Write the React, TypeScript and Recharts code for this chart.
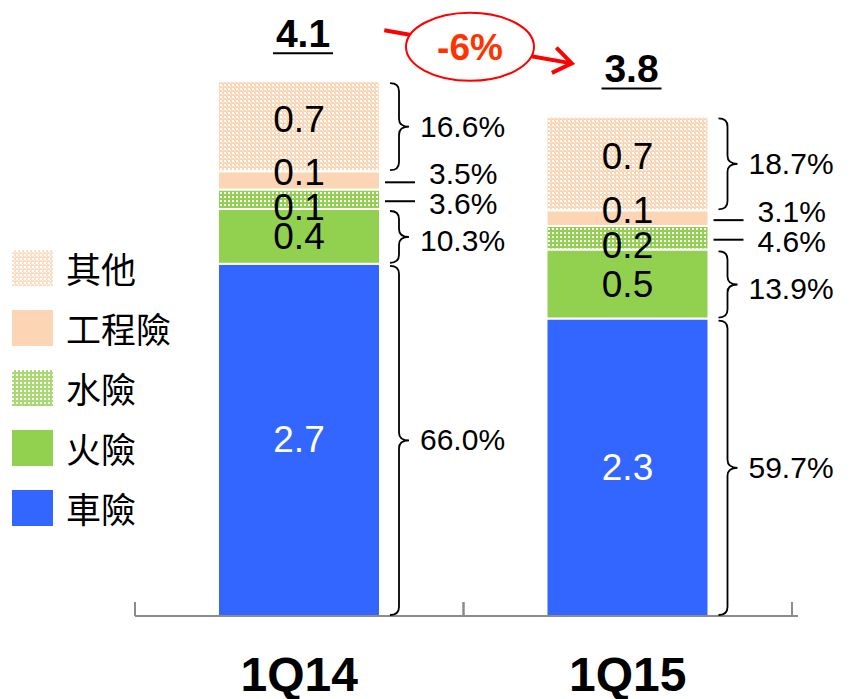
import React from "react";
import {
  BarChart,
  Bar,
  XAxis,
  YAxis,
  LabelList,
  Legend,
  ReferenceLine,
} from "recharts";

// premium volume by line of business (NT$ bn)
const quarters = ["1Q14", "1Q15"];
const totalLabels = ["4.1", "3.8"];
const changeLabel = "-6%";

const carValues = [2.7, 2.28];
const fireValues = [0.42, 0.53];
const waterValues = [0.15, 0.18];
const engValues = [0.14, 0.12];
const otherValues = [0.69, 0.72];

const carLabels = ["2.7", "2.3"];
const fireLabels = ["0.4", "0.5"];
const waterLabels = ["0.1", "0.2"];
const engLabels = ["0.1", "0.1"];
const otherLabels = ["0.7", "0.7"];

const carShares = ["66.0%", "59.7%"];
const fireShares = ["10.3%", "13.9%"];
const waterShares = ["3.6%", "4.6%"];
const engShares = ["3.5%", "3.1%"];
const otherShares = ["16.6%", "18.7%"];

const FONT = "'Liberation Sans', Arial, sans-serif";
const CJK = "'Noto Sans CJK TC', 'Noto Sans', sans-serif";

const BLUE = "#3366FF";
const GREEN = "#92D050";
const PEACH = "#FCD5B5";

const data = quarters.map((q, i) => ({
  q,
  car: carValues[i],
  fire: fireValues[i],
  water: waterValues[i],
  eng: engValues[i],
  other: otherValues[i],
}));

// bottom to top
const series = [
  { key: "car", name: "車險", fill: BLUE, pattern: null, text: "#fff", labels: carLabels, shares: carShares, brace: true, labelDy: 0, shareDy: 0 },
  { key: "fire", name: "火險", fill: GREEN, pattern: null, text: "#000", labels: fireLabels, shares: fireShares, brace: true, labelDy: 0, shareDy: 4 },
  { key: "water", name: "水險", fill: GREEN, pattern: "water", text: "#000", labels: waterLabels, shares: waterShares, brace: false, labelDy: 8, shareDy: 4 },
  { key: "eng", name: "工程險", fill: PEACH, pattern: null, text: "#000", labels: engLabels, shares: engShares, brace: false, labelDy: -8, shareDy: -7 },
  { key: "other", name: "其他", fill: PEACH, pattern: "other", text: "#000", labels: otherLabels, shares: otherShares, brace: true, labelDy: -7, shareDy: 0 },
];

const PatternDefs = ({ prefix }: { prefix: string }) => (
  <defs>
    <pattern id={`${prefix}-other`} width={4} height={4} patternUnits="userSpaceOnUse">
      <rect width={4} height={4} fill={PEACH} />
      <rect width={2} height={2} fill="#fff" />
      <rect x={2} y={2} width={1} height={1} fill="#fff" />
    </pattern>
    <pattern id={`${prefix}-water`} width={4} height={4} patternUnits="userSpaceOnUse">
      <rect width={4} height={4} fill={GREEN} />
      <rect width={2} height={2} fill="#fff" />
    </pattern>
  </defs>
);

const bracePath = (x: number, y0: number, y1: number) => {
  const xa = x + 10;
  const xb = x + 19;
  const xc = x + 29;
  const ym = (y0 + y1) / 2;
  const r = 8;
  return `M${xa},${y0} Q${xb},${y0} ${xb},${y0 + r} L${xb},${ym - r} Q${xb},${ym} ${xc},${ym} Q${xb},${ym} ${xb},${ym + r} L${xb},${y1 - r} Q${xb},${y1} ${xa},${y1}`;
};

const makeSegmentLabel = (s: any) => (props: any) => {
  const vb = props.viewBox || props;
  const { x, y, width, height } = vb;
  const index = props.index ?? 0;
  const cx = x + width / 2;
  const cy = y + height / 2;
  const right = x + width;
  return (
    <g>
      <text
        x={cx}
        y={cy + s.labelDy}
        textAnchor="middle"
        dominantBaseline="central"
        fill={s.text}
        fontSize={37}
        fontFamily={FONT}
      >
        {s.labels[index]}
      </text>
      {s.brace ? (
        <path d={bracePath(right, y + 2, y + height - 1)} fill="none" stroke="#000" strokeWidth={1.8} />
      ) : (
        <line x1={right + 5} x2={right + 35} y1={cy + 2} y2={cy + 2} stroke="#000" strokeWidth={2} />
      )}
      <text
        x={s.brace ? right + 40 : right + 49}
        y={cy + s.shareDy}
        dominantBaseline="central"
        fill="#000"
        fontSize={30}
        fontFamily={FONT}
      >
        {s.shares[index]}
      </text>
    </g>
  );
};

const TotalLabel = (props: any) => {
  const vb = props.viewBox || props;
  const { x, y, width } = vb;
  const index = props.index ?? 0;
  const cx = x + width / 2 + 4;
  const base = y - 34;
  return (
    <g>
      <text x={cx} y={base} textAnchor="middle" fontSize={39} fontWeight="bold" fontFamily={FONT} fill="#000">
        {totalLabels[index]}
      </text>
      <line x1={cx - 30} x2={cx + 30} y1={base + 6} y2={base + 6} stroke="#000" strokeWidth={2} />
    </g>
  );
};

const ChangeArrow = (props: any) => {
  const { x1, y1, x2, y2 } = props;
  const sx = x1 + 85;
  const sy = y1 - 51;
  const ex = x2 - 56;
  const ey = y2 - 53;
  const ang = Math.atan2(ey - sy, ex - sx);
  const head = 22;
  const a1 = ang + Math.PI - 0.62;
  const a2 = ang + Math.PI + 0.62;
  const mx = (sx + ex) / 2 - 8;
  const my = (sy + ey) / 2;
  return (
    <g>
      <line x1={sx} y1={sy} x2={ex} y2={ey} stroke="#FF0000" strokeWidth={4} />
      <polyline
        points={`${ex + head * Math.cos(a1)},${ey + head * Math.sin(a1)} ${ex},${ey} ${ex + head * Math.cos(a2)},${ey + head * Math.sin(a2)}`}
        fill="none"
        stroke="#FF0000"
        strokeWidth={4}
      />
      <ellipse cx={mx} cy={my} rx={64} ry={34} fill="#fff" stroke="#FF0000" strokeWidth={2} />
      <text x={mx} y={my + 1} textAnchor="middle" dominantBaseline="central" fontSize={37} fontWeight="bold" fontFamily={FONT} fill="#FF3300">
        {changeLabel}
      </text>
    </g>
  );
};

const QuarterTick = (props: any) => {
  const { x, y, payload } = props;
  const off = payload?.offset ?? 0;
  return (
    <g>
      <line x1={x - off} x2={x - off} y1={y} y2={y - 14} stroke="#8C8C8C" strokeWidth={2} />
      <line x1={x + off} x2={x + off} y1={y} y2={y - 14} stroke="#8C8C8C" strokeWidth={2} />
      <text x={x} y={y + 75} textAnchor="middle" fontSize={48} fontWeight="bold" fontFamily={FONT} fill="#000">
        {payload.value}
      </text>
    </g>
  );
};

const LegendContent = () => (
  <div>
    {[...series].reverse().map((s) => (
      <div key={s.key} style={{ display: "flex", alignItems: "center", height: 60 }}>
        <svg width={41} height={36} style={{ display: "block" }}>
          <PatternDefs prefix={`lg-${s.key}`} />
          <rect
            width={41}
            height={36}
            fill={s.pattern ? `url(#lg-${s.key}-${s.pattern})` : s.fill}
            opacity={s.pattern ? 0.8 : 1}
          />
        </svg>
        <span style={{ marginLeft: 13, fontFamily: CJK, fontSize: 35, lineHeight: "36px", color: "#000" }}>
          {s.name}
        </span>
      </div>
    ))}
  </div>
);

export default function App() {
  return (
    <div style={{ position: "absolute", left: 0, top: 0, width: 850, height: 699, background: "#fff" }}>
      <BarChart
        width={850}
        height={699}
        data={data}
        barSize={162}
        margin={{ top: 29, right: 52, left: 135, bottom: 0 }}
      >
        <PatternDefs prefix="bar" />
        <YAxis hide domain={[0, 4.5]} />
        <XAxis
          dataKey="q"
          height={83}
          padding={{ left: 0, right: 6 }}
          axisLine={{ stroke: "#8C8C8C", strokeWidth: 2 }}
          tickLine={false}
          tickSize={0}
          tickMargin={0}
          tick={<QuarterTick />}
          interval={0}
        />
        <Legend
          layout="vertical"
          align="center"
          verticalAlign="middle"
          wrapperStyle={{ left: 12, top: 238, width: 200, height: 300 }}
          content={<LegendContent />}
        />
        {series.map((s) => (
          <Bar
            key={s.key}
            dataKey={s.key}
            name={s.name}
            stackId="a"
            fill={s.pattern ? `url(#bar-${s.pattern})` : s.fill}
            stroke="#fff"
            strokeWidth={2}
            isAnimationActive={false}
          >
            <LabelList dataKey={s.key} content={makeSegmentLabel(s)} />
            {s.key === "other" && <LabelList dataKey="other" content={TotalLabel} />}
          </Bar>
        ))}
        <ReferenceLine
          segment={[
            { x: quarters[0], y: carValues[0] + fireValues[0] + waterValues[0] + engValues[0] + otherValues[0] },
            { x: quarters[1], y: carValues[1] + fireValues[1] + waterValues[1] + engValues[1] + otherValues[1] },
          ]}
          shape={ChangeArrow}
          ifOverflow="visible"
        />
      </BarChart>
    </div>
  );
}
